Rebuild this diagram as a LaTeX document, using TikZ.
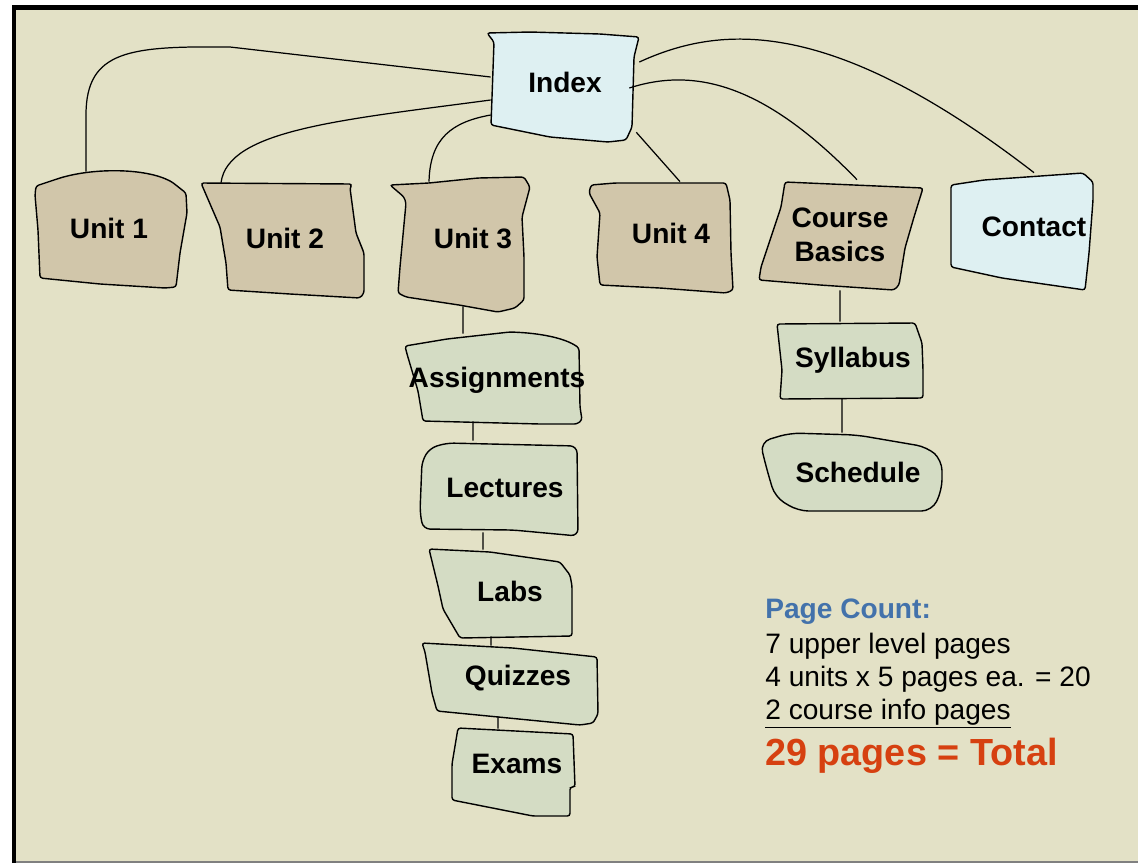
\documentclass[tikz,border=0pt]{standalone}
\usepackage{fontspec}
\setmainfont{Liberation Sans}
\definecolor{pagebg}{RGB}{227,225,198}
\definecolor{unitfill}{RGB}{209,198,170}
\definecolor{topfill}{RGB}{222,240,242}
\definecolor{subfill}{RGB}{212,220,196}
\definecolor{countblue}{RGB}{67,114,171}
\definecolor{totalred}{RGB}{214,64,16}

\begin{document}
\begin{tikzpicture}[x=0.02cm, y=-0.02cm,
		outline/.style={draw=black, line width=0.8pt, rounded corners=1.5pt},
		pagelabel/.style={font=\fontsize{16}{19}\selectfont\bfseries, inner sep=0pt, align=center},
		link/.style={draw=black, line width=0.7pt},
		counttext/.style={font=\fontsize{16}{19}\selectfont, inner sep=0pt, anchor=base west}]
	\useasboundingbox (0,0) rectangle (1138,863);
	\fill[white] (0,0) rectangle (1138,863);
	\fill[pagebg] (14,8) rectangle (1138,862);
	\draw[gray, line width=0.04cm] (14,862) -- (1138,862);
	\draw[black, line width=0.1cm] (14,863) -- (14,7) -- (1138,7);

	% page outlines
	\draw[outline, fill=topfill] (487,33) -- (530,32) -- (600,34) -- (639,37) -- (634,57) -- (632,127) -- (626,140) -- (608,142) -- (550,137) -- (491,125) -- (494,42) -- cycle;
	\draw[outline, fill=unitfill] (36,186) -- (60,178) .. controls (95,168) and (145,168) .. (172,182) -- (186,193) -- (187,213) -- (180,253) -- (176,287) -- (165,288) -- (100,284) -- (40,278) -- (38,230) -- (35,195) -- cycle;
	\draw[outline, fill=unitfill] (201,183) -- (352,184) -- (350,188) -- (356,233) -- (364,253) -- (364,293) -- (360,298) -- (290,294) -- (228,290) -- (226,263) -- (220,227) -- cycle;
	\draw[outline, fill=unitfill] (390,185) -- (429,183) -- (478,178) -- (524,177) -- (530,187) -- (522,217) -- (524,257) -- (524,300) -- (515,308) -- (498,312) -- (459,305) -- (406,297) -- (398,293) -- (400,267) -- (406,203) -- (404,197) -- cycle;
	\draw[outline, fill=unitfill] (591,185) -- (615,183) -- (726,183) -- (730,200) -- (731,253) -- (733,290) -- (726,293) -- (660,288) -- (600,285) -- (597,257) -- (600,213) -- (589,193) -- cycle;
	\draw[outline, fill=unitfill] (785,182) -- (923,188) -- (914,217) -- (905,248) -- (899,285) -- (894,290) -- (820,285) -- (759,280) -- (761,267) -- (781,207) -- cycle;
	\draw[outline, fill=topfill] (951,185) -- (984,180) -- (1083,173) -- (1093,182) -- (1093,200) -- (1089,253) -- (1085,290) -- (1002,278) -- (951,267) -- cycle;
	\draw[outline, fill=subfill] (405,346) -- (447,339) -- (510,332) .. controls (540,333) and (565,338) .. (579,348) -- (580,407) -- (582,420) -- (577,424) -- (540,424) -- (423,421) -- (418,391) -- (407,354) -- cycle;
	\draw[outline, fill=subfill, rounded corners=4pt] (430,448) -- (447,443) -- (577,446) -- (578,536) -- (513,530) -- (423,529) -- (420,512) -- (422,461) -- cycle;
	\draw[outline, fill=subfill] (429,549) -- (490,552) -- (560,562) -- (570,575) -- (572,586) -- (572,636) -- (460,638) -- (443,609) -- (438,586) -- cycle;
	\draw[outline, fill=subfill] (422,643) -- (513,648) -- (597,657) -- (598,714) -- (593,723) -- (580,725) -- (437,711) -- (432,693) -- (425,652) -- cycle;
	\draw[outline, fill=subfill] (458,728) -- (573,734) -- (575,787) -- (570,787) -- (570,816) -- (533,816) -- (452,800) -- (452,764) -- cycle;
	\draw[outline, fill=subfill] (777,324) -- (915,323) -- (922,343) -- (923,370) -- (923,398) -- (780,399) -- (782,370) -- cycle;
	\draw[outline, fill=subfill, rounded corners=6pt] (760,442) -- (790,433) -- (857,435) -- (927,447) -- (942,460) -- (942,490) -- (932,511) -- (798,511) -- (775,497) -- (767,470) -- cycle;

	% page names
	\node[pagelabel, minimum width=2.96cm, minimum height=2cm] (index) at (565,82) {Index};
	\node[pagelabel, minimum height=2.24cm] (unit1) at (109,228) {Unit 1};
	\node[pagelabel, minimum height=2.2cm] (unit2) at (285,238) {Unit 2};
	\node[pagelabel, minimum height=2.24cm] (unit3) at (473,238) {Unit 3};
	\node[pagelabel, minimum height=2.04cm] (unit4) at (671,233) {Unit 4};
	\node[pagelabel, minimum height=2.2cm] (basics) at (840,235) {Course\\Basics};
	\node[pagelabel, minimum height=2.16cm] (contact) at (1034,227) {Contact};
	\node[pagelabel, minimum height=1.84cm] (assign) at (497,380) {Assignments};
	\node[pagelabel, minimum height=1.88cm] (lectures) at (505,488) {Lectures};
	\node[pagelabel, minimum height=1.64cm] (labs) at (510,591) {Labs};
	\node[pagelabel, minimum height=1.28cm] (quizzes) at (518,678) {Quizzes};
	\node[pagelabel, minimum height=1.4cm] (exams) at (517,764) {Exams};
	\node[pagelabel, minimum height=1.52cm] (syllabus) at (853,360) {Syllabus};
	\node[pagelabel, minimum height=1.56cm] (schedule) at (858,472) {Schedule};

	% links
	\draw[link] ([yshift=0.1cm]index.west) -- (230,47) .. controls (130,46) and (86,50) .. (86,115) -- ([xshift=-0.46cm]unit1.north);
	\draw[link] ([yshift=-0.36cm]index.west) .. controls (340,120) and (228,130) .. ([xshift=-1.28cm]unit2.north);
	\draw[link] ([yshift=-0.66cm]index.west) .. controls (452,122) and (430,138) .. ([xshift=-0.88cm]unit3.north);
	\draw[link] ([xshift=-0.06cm]index.south east) -- ([xshift=0.18cm]unit4.north);
	\draw[link] ([xshift=-0.2cm,yshift=-0.12cm]index.east) .. controls (700,65) and (770,90) .. ([xshift=0.34cm]basics.north);
	\draw[link] ([yshift=0.4cm]index.east) .. controls (720,25) and (830,15) .. (contact.north);
	\draw[link] ([xshift=-0.2cm,yshift=-0.24cm]unit3.south) -- ([xshift=-0.68cm]assign.north);
	\draw[link] ([xshift=-0.48cm,yshift=0.1cm]assign.south) -- ([xshift=-0.64cm]lectures.north);
	\draw[link] ([xshift=-0.44cm,yshift=0.06cm]lectures.south) -- ([xshift=-0.54cm]labs.north);
	\draw[link] ([xshift=-0.38cm,yshift=-0.08cm]labs.south) -- ([xshift=-0.54cm]quizzes.north);
	\draw[link] ([xshift=-0.4cm,yshift=-0.12cm]quizzes.south) -- ([xshift=-0.38cm]exams.north);
	\draw[link] (basics.south) -- ([xshift=-0.26cm]syllabus.north);
	\draw[link] ([xshift=-0.22cm]syllabus.south) -- ([xshift=-0.32cm]schedule.north);

	% page count
	\node[counttext, font=\fontsize{16}{19}\selectfont\bfseries, text=countblue] (pchead) at (765,618) {Page Count:};
	\node[counttext] (pcupper) at (765,653) {7 upper level pages};
	\node[counttext] (pcunits) at (765,686) {4 units x 5 pages ea. = 20};
	\node[counttext] (pcinfo) at (765,719) {\underline{2 course info pages}};
	\node[counttext, font=\fontsize{21.5}{25}\selectfont\bfseries, text=totalred] (pctotal) at (765,765) {29 pages = Total};
\end{tikzpicture}
\end{document}
